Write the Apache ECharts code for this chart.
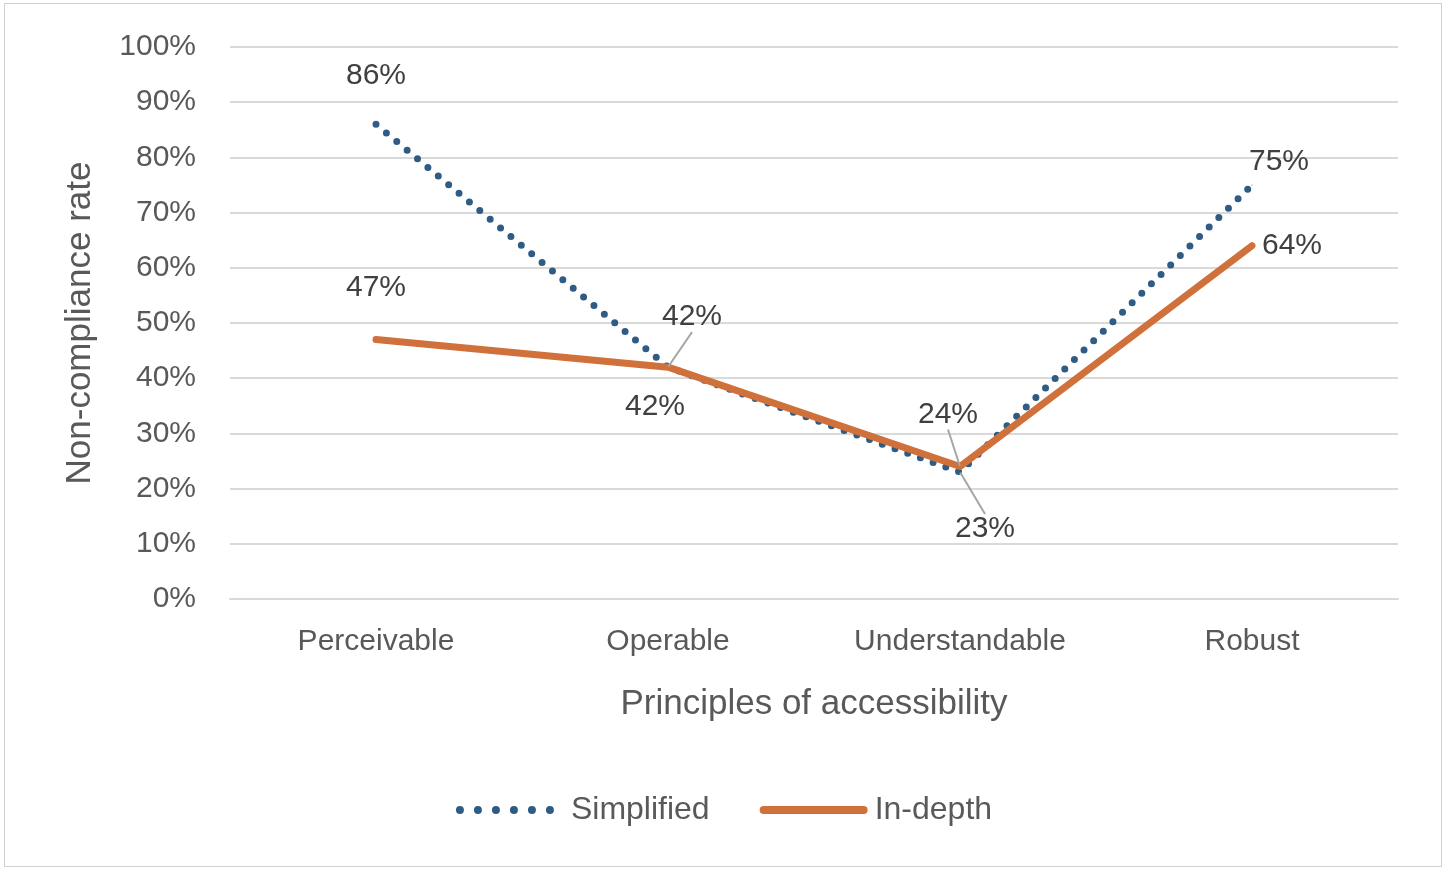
<!DOCTYPE html>
<html><head><meta charset="utf-8">
<script src="https://cdn.jsdelivr.net/npm/echarts@6/dist/echarts.min.js"></script>
<style>
html,body{margin:0;padding:0;background:#fff;}
#wrap{position:absolute;left:4px;top:3px;width:1438px;height:864px;border:1.5px solid #d0d0d0;box-sizing:border-box;}
#c{position:absolute;left:0;top:0;width:1448px;height:872px;}
</style></head>
<body><div id="wrap"></div><div id="c"></div>
<script>
const categories = ['Perceivable', 'Operable', 'Understandable', 'Robust'];
const simplified = [86, 42, 23, 75];
const inDepth = [47, 42, 24, 64];
const yTicks = [0, 10, 20, 30, 40, 50, 60, 70, 80, 90, 100];

// label offsets (dx, dy) relative to the data point
const simplifiedLabelOffsets = [[0, -49], [-13, 40], [25, 57], [27, -23]];
const inDepthLabelOffsets = [[0, -52], [24, -50], [-12, -52], [40, 0]];
const simplifiedLeader = [false, false, true, false];
const inDepthLeader = [false, true, true, false];

const FONT = '"Liberation Sans", "DejaVu Sans", sans-serif';
const chart = echarts.init(document.getElementById('c'));

function mk(values, leaders) {
  return values.map((v, i) => ({ value: v, labelLine: { show: leaders[i] } }));
}

chart.setOption({
  animation: false,
  grid: { left: 230, right: 50, top: 47, bottom: 273 },
  legend: {
    top: 789, left: 'center', itemWidth: 100, itemHeight: 14, itemGap: 50,
    itemStyle: { opacity: 0 },
    textStyle: { fontFamily: FONT, fontSize: 32, color: '#595959', padding: [0, 0, 0, 6] },
    data: [
      { name: 'Simplified', lineStyle: { width: 8, type: [0, 18], cap: 'round', color: '#2E5C84' } },
      { name: 'In-depth', lineStyle: { width: 8, cap: 'round', color: '#D0703A' } }
    ]
  },
  xAxis: {
    type: 'category', data: categories, boundaryGap: true,
    name: 'Principles of accessibility', nameLocation: 'middle', nameGap: 88,
    nameTextStyle: { fontFamily: FONT, fontSize: 35, color: '#595959' },
    axisLine: { show: true, lineStyle: { color: '#d9d9d9', width: 2 } },
    axisTick: { show: false },
    axisLabel: { fontFamily: FONT, fontSize: 30, color: '#595959', margin: 28 }
  },
  yAxis: {
    type: 'value', min: 0, max: 100, interval: 10,
    name: 'Non-compliance rate', nameLocation: 'middle', nameGap: 132, nameRotate: 90,
    nameTextStyle: { fontFamily: FONT, fontSize: 35, color: '#595959' },
    axisLine: { show: false }, axisTick: { show: false },
    axisLabel: { fontFamily: FONT, fontSize: 30, color: '#595959', margin: 34,
      formatter: v => yTicks.includes(v) ? v + '%' : '' },
    splitLine: { lineStyle: { color: '#d9d9d9', width: 2 } }
  },
  series: [
    {
      name: 'Simplified', type: 'line', data: mk(simplified, simplifiedLeader),
      symbol: 'circle', symbolSize: 1, z: 2,
      itemStyle: { color: '#2E5C84' },
      lineStyle: { color: '#2E5C84', width: 7, type: [0, 13.5], cap: 'round' },
      label: { show: true, position: 'inside', formatter: '{c}%',
        fontFamily: FONT, fontSize: 30, color: '#404040' },
      labelLine: { lineStyle: { color: '#a6a6a6', width: 2 } },
      labelLayout: p => ({ dx: simplifiedLabelOffsets[p.dataIndex][0], dy: simplifiedLabelOffsets[p.dataIndex][1] })
    },
    {
      name: 'In-depth', type: 'line', data: mk(inDepth, inDepthLeader),
      symbol: 'circle', symbolSize: 1, z: 3,
      itemStyle: { color: '#D0703A' },
      lineStyle: { color: '#D0703A', width: 7, cap: 'round', join: 'round' },
      label: { show: true, position: 'inside', formatter: '{c}%',
        fontFamily: FONT, fontSize: 30, color: '#404040' },
      labelLine: { lineStyle: { color: '#a6a6a6', width: 2 } },
      labelLayout: p => ({ dx: inDepthLabelOffsets[p.dataIndex][0], dy: inDepthLabelOffsets[p.dataIndex][1] })
    }
  ]
});
</script></body></html>
